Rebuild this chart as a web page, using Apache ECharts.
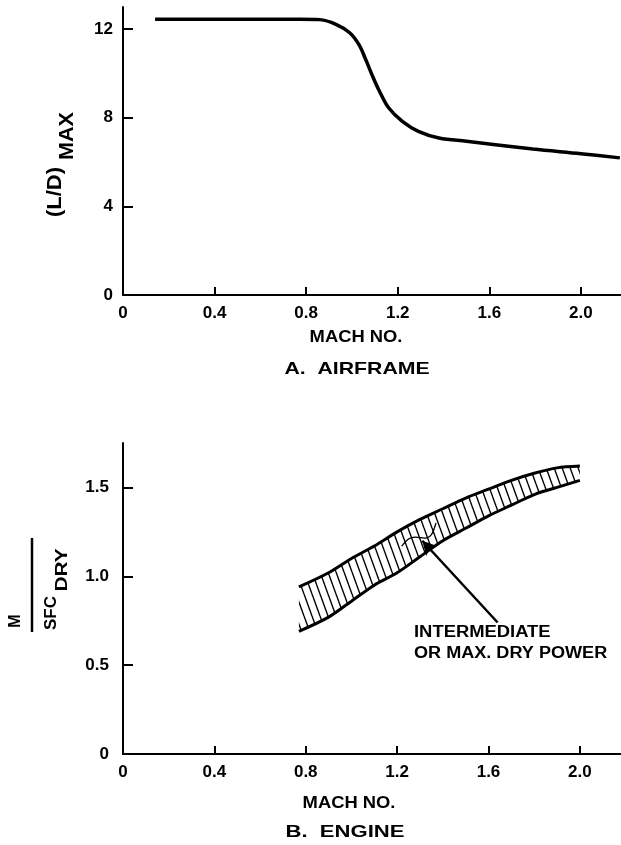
<!DOCTYPE html>
<html>
<head>
<meta charset="utf-8">
<script src="https://cdn.jsdelivr.net/npm/echarts@6/dist/echarts.min.js"></script>
<style>
html,body{margin:0;padding:0;background:#fff;}
#c{width:621px;height:845px;}
</style>
</head>
<body>
<div id="c"></div>
<script>
// ---- Data: A. Airframe ----
const machA = [0.14, 0.5, 0.77, 0.86, 0.93, 0.99, 1.03, 1.06, 1.09, 1.12, 1.16, 1.22, 1.29, 1.38, 1.5, 1.79, 2.0, 2.17];
const ldMax = [12.45, 12.45, 12.45, 12.43, 12.22, 11.84, 11.31, 10.63, 9.88, 9.2, 8.45, 7.84, 7.39, 7.09, 6.94, 6.59, 6.38, 6.19];
const ticksAX = [0, 0.4, 0.8, 1.2, 1.6, 2.0];
const ticksAY = [0, 4, 8, 12];

// ---- Data: B. Engine (band) ----
const machB = [0.77, 0.9, 1.0, 1.1, 1.2, 1.3, 1.4, 1.5, 1.6, 1.7, 1.8, 1.9, 2.0];
const bandUpper = [0.94, 1.02, 1.10, 1.17, 1.25, 1.32, 1.38, 1.44, 1.49, 1.54, 1.58, 1.61, 1.62];
const bandLower = [0.69, 0.77, 0.86, 0.95, 1.02, 1.11, 1.20, 1.27, 1.34, 1.40, 1.46, 1.50, 1.54];
const ticksBX = [0, 0.4, 0.8, 1.2, 1.6, 2.0];
const ticksBY = [0, 0.5, 1.0, 1.5];

// annotation (data coords)
const arrowFrom = [1.64, 0.74];
const arrowTo = [1.31, 1.20];
const squiggleX = [1.22, 1.25, 1.28, 1.32, 1.35, 1.37];
const squiggleY = [1.17, 1.21, 1.22, 1.215, 1.235, 1.30];

// hatch pattern
const pat = document.createElement('canvas');
pat.width = 8; pat.height = 22;
const pc = pat.getContext('2d');
pc.strokeStyle = '#000'; pc.lineWidth = 1.4;
[[-8,0],[0,0],[8,0]].forEach(([x0,y0]) => {
  pc.beginPath(); pc.moveTo(x0, y0); pc.lineTo(x0 + 8, y0 + 22); pc.stroke();
});

const FONT = 'Liberation Sans';
const black = '#000';

function axisCommon(tickVals, labelFmt, tickLen, margin) {
  return {
    z: 5,
    axisLine: { show: true, onZero: false, lineStyle: { color: black, width: 2 } },
    axisTick: { show: true, inside: true, length: tickLen, lineStyle: { color: black, width: 2 }, customValues: tickVals },
    axisLabel: { show: true, color: black, fontFamily: FONT, fontWeight: 'bold', fontSize: 17, margin: margin, customValues: tickVals, formatter: labelFmt },
    splitLine: { show: false }
  };
}
const fmtX = v => v === 0 ? '0' : v.toFixed(1);
const fmtYA = v => String(Math.round(v));
const fmtYB = v => v === 0 ? '0' : v.toFixed(1);

const chart = echarts.init(document.getElementById('c'), null, { renderer: 'canvas' });

// stacked band: value first so that the stack is applied on the y dimension
const bandBase = machB.map((m, i) => [bandLower[i], m]);
const bandDiff = machB.map((m, i) => [+(bandUpper[i] - bandLower[i]).toFixed(3), m]);

const option = {
  backgroundColor: '#fff',
  animation: false,
  grid: [
    { left: 123, top: 7, width: 498, height: 288 },
    { left: 123, top: 443, width: 498, height: 311 }
  ],
  xAxis: [
    Object.assign({ type: 'value', gridIndex: 0, min: 0, max: 2.175 }, axisCommon(ticksAX, fmtX, 8, 10)),
    Object.assign({ type: 'value', gridIndex: 1, min: 0, max: 2.18 }, axisCommon(ticksBX, fmtX, 8, 10))
  ],
  yAxis: [
    Object.assign({ type: 'value', gridIndex: 0, min: 0, max: 13 }, axisCommon(ticksAY, fmtYA, 10, 10)),
    Object.assign({ type: 'value', gridIndex: 1, min: 0, max: 1.75 }, axisCommon(ticksBY, fmtYB, 10, 14))
  ],
  series: [
    {
      type: 'line', xAxisIndex: 0, yAxisIndex: 0,
      data: machA.map((m, i) => [m, ldMax[i]]),
      smooth: 0.35, symbol: 'none',
      lineStyle: { color: black, width: 3.5 }
    },
    {
      type: 'line', xAxisIndex: 1, yAxisIndex: 1, stack: 'band',
      encode: { x: 1, y: 0 },
      data: bandBase, smooth: 0.3, symbol: 'none',
      lineStyle: { color: black, width: 3 }
    },
    {
      type: 'line', xAxisIndex: 1, yAxisIndex: 1, stack: 'band',
      encode: { x: 1, y: 0 },
      data: bandDiff, smooth: 0.3, symbol: 'none',
      lineStyle: { color: black, width: 3 },
      areaStyle: { color: { image: pat, repeat: 'repeat' }, opacity: 1 }
    },
    {
      type: 'line', xAxisIndex: 1, yAxisIndex: 1,
      data: squiggleX.map((m, i) => [m, squiggleY[i]]),
      smooth: 0.3, symbol: 'none',
      lineStyle: { color: black, width: 1.3 },
      markLine: {
        silent: true, animation: false,
        symbol: ['none', 'arrow'], symbolSize: [11, 14],
        label: { show: false },
        lineStyle: { color: black, width: 2.5, type: 'solid' },
        data: [[{ coord: arrowFrom }, { coord: arrowTo }]]
      }
    }
  ],
  graphic: [
    { type: 'text', x: 55, y: 192, rotation: Math.PI / 2, scaleX: 1.1, z: 10,
      style: { text: '(L/D)', fontFamily: FONT, fontWeight: 'bold', fontSize: 20, fill: black, align: 'center', verticalAlign: 'middle' } },
    { type: 'text', x: 67, y: 136, rotation: Math.PI / 2, scaleX: 1.08, z: 10,
      style: { text: 'MAX', fontFamily: FONT, fontWeight: 'bold', fontSize: 20, fill: black, align: 'center', verticalAlign: 'middle' } },
    { type: 'text', x: 356, y: 337, scaleX: 1.08, z: 10,
      style: { text: 'MACH NO.', fontFamily: FONT, fontWeight: 'bold', fontSize: 17, fill: black, align: 'center', verticalAlign: 'middle' } },
    { type: 'text', x: 357, y: 369, scaleX: 1.25, z: 10,
      style: { text: 'A.  AIRFRAME', fontFamily: FONT, fontWeight: 'bold', fontSize: 17, fill: black, align: 'center', verticalAlign: 'middle' } },
    { type: 'text', x: 16, y: 621, rotation: Math.PI / 2, z: 10,
      style: { text: 'M', fontFamily: FONT, fontWeight: 'bold', fontSize: 16, fill: black, align: 'center', verticalAlign: 'middle' } },
    { type: 'line', shape: { x1: 32, y1: 538, x2: 32, y2: 632 }, z: 10, style: { stroke: black, lineWidth: 2.5 } },
    { type: 'text', x: 51, y: 613, rotation: Math.PI / 2, z: 10,
      style: { text: 'SFC', fontFamily: FONT, fontWeight: 'bold', fontSize: 17, fill: black, align: 'center', verticalAlign: 'middle' } },
    { type: 'text', x: 63, y: 570, rotation: Math.PI / 2, scaleX: 1.3, z: 10,
      style: { text: 'DRY', fontFamily: FONT, fontWeight: 'bold', fontSize: 16, fill: black, align: 'center', verticalAlign: 'middle' } },
    { type: 'text', x: 414, y: 633, scaleX: 1.15, z: 10,
      style: { text: 'INTERMEDIATE', fontFamily: FONT, fontWeight: 'bold', fontSize: 16, fill: black, align: 'left', verticalAlign: 'middle' } },
    { type: 'text', x: 414, y: 654, scaleX: 1.13, z: 10,
      style: { text: 'OR MAX. DRY POWER', fontFamily: FONT, fontWeight: 'bold', fontSize: 16, fill: black, align: 'left', verticalAlign: 'middle' } },
    { type: 'text', x: 349, y: 803, scaleX: 1.08, z: 10,
      style: { text: 'MACH NO.', fontFamily: FONT, fontWeight: 'bold', fontSize: 17, fill: black, align: 'center', verticalAlign: 'middle' } },
    { type: 'text', x: 345, y: 832, scaleX: 1.3, z: 10,
      style: { text: 'B.  ENGINE', fontFamily: FONT, fontWeight: 'bold', fontSize: 17, fill: black, align: 'center', verticalAlign: 'middle' } }
  ]
};
chart.setOption(option);
</script>
</body>
</html>
